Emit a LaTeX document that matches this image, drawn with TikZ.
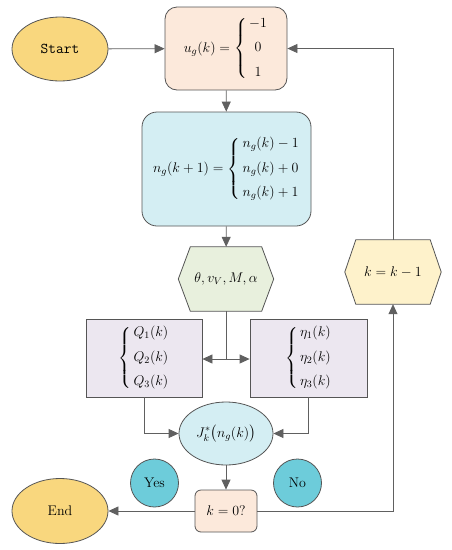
\RequirePackage{fix-cm}
\documentclass[tikz,border=0pt]{standalone}
\usepackage{amsmath}
\usepackage{fontspec}
\usetikzlibrary{shapes.geometric,arrows.meta,backgrounds}
\definecolor{bordc}{HTML}{555555}
\definecolor{linec}{HTML}{606060}
\definecolor{gold}{HTML}{F9D77E}
\definecolor{peach}{HTML}{FCE9DB}
\definecolor{lblue}{HTML}{D4EEF3}
\definecolor{lgreen}{HTML}{E8F0DD}
\definecolor{lyellow}{HTML}{FEF2CB}
\definecolor{lav}{HTML}{ECE7F0}
\definecolor{teal}{HTML}{6DCCDA}
\newcommand{\threerows}[4]{\left\{\begin{array}{@{\,}#1@{}}#2\\[9pt]#3\\[9pt]#4\end{array}\right.}
\begin{document}
\begin{tikzpicture}[x=1pt,y=-1pt,
  base/.style={draw=bordc, line width=0.8pt, inner sep=0pt, font=\fontsize{14}{15.6}\selectfont},
  term/.style={base, ellipse, fill=gold},
  rbox/.style={base, rectangle},
  circ/.style={base, circle, fill=teal, minimum size=48pt},
  hexbox/.style={rectangle, inner sep=0pt, font=\fontsize{14}{15.6}\selectfont},
  hexline/.style={draw=bordc, line width=0.8pt},
  conn/.style={draw=linec, line width=0.8pt},
  arr/.style={conn, -{Triangle[length=10pt,width=9pt]}}]
\useasboundingbox (0,0) rectangle (451,550);
% nodes
\node[term, minimum width=96pt, minimum height=64pt, font=\ttfamily\fontsize{15}{17}\selectfont] (start) at (60,49) {Start};
\node[rbox, fill=peach, rounded corners=12pt, minimum width=122pt, minimum height=83pt] (ug) at (226,48.5)
  {$u_g(k)=\threerows{c}{-1}{0}{1}$};
\node[rbox, fill=lblue, rounded corners=15pt, minimum width=169pt, minimum height=114pt] (ng) at (226.5,169)
  {$n_g(k+1)=\threerows{l}{n_g(k)-1}{n_g(k)+0}{n_g(k)+1}$};
\node[hexbox, minimum width=95pt, minimum height=64pt] (th) at (226,279) {$\theta, v_V, M, \alpha$};
\node[hexbox, minimum width=96pt, minimum height=64pt] (kk) at (393,272) {$k=k-1$};
\node[rbox, fill=lav, minimum width=116pt, minimum height=78pt] (Q) at (144,358)
  {$\threerows{l}{Q_1(k)}{Q_2(k)}{Q_3(k)}$};
\node[rbox, fill=lav, minimum width=117pt, minimum height=78pt] (eta) at (308.5,358)
  {$\threerows{l}{\eta_1(k)}{\eta_2(k)}{\eta_3(k)}$};
\node[base, ellipse, fill=lblue, minimum width=94pt, minimum height=63pt] (J) at (226,433.5) {$J_k^*\bigl(n_g(k)\bigr)$};
\node[rbox, fill=peach, rounded corners=6pt, minimum width=62pt, minimum height=42pt] (k0) at (226,511) {$k=0?$};
\node[term, minimum width=96pt, minimum height=65pt] (end) at (60,511) {End};
\node[circ] (yes) at (154.5,483) {Yes};
\node[circ] (no) at (297.5,483) {No};
% hexagons
\begin{scope}[on background layer]
\draw[hexline, fill=lgreen] ([xshift=12pt]th.north west) -- ([xshift=-12pt]th.north east) -- (th.east)
  -- ([xshift=-12pt]th.south east) -- ([xshift=12pt]th.south west) -- (th.west) -- cycle;
\draw[hexline, fill=lyellow] ([xshift=11pt]kk.north west) -- ([xshift=-11pt]kk.north east) -- (kk.east)
  -- ([xshift=-11pt]kk.south east) -- ([xshift=11pt]kk.south west) -- (kk.west) -- cycle;
\end{scope}
% connectors
\draw[arr] (start) -- (ug);
\draw[arr] (ug) -- (ng);
\draw[arr] (ng) -- (th);
\coordinate (split) at (226,359);
\draw[conn] (th.south) -- (split);
\draw[arr] (split) -- (Q.east |- split);
\draw[arr] (split) -- (eta.west |- split);
\draw[arr] (Q.south) |- (J.west);
\draw[arr] (eta.south) |- (J.east);
\draw[arr] (J) -- (k0);
\draw[arr] (k0) -- (end);
\draw[arr] (k0.east) -| (kk.south);
\draw[arr] (kk.north) |- (ug.east);
\end{tikzpicture}
\end{document}
